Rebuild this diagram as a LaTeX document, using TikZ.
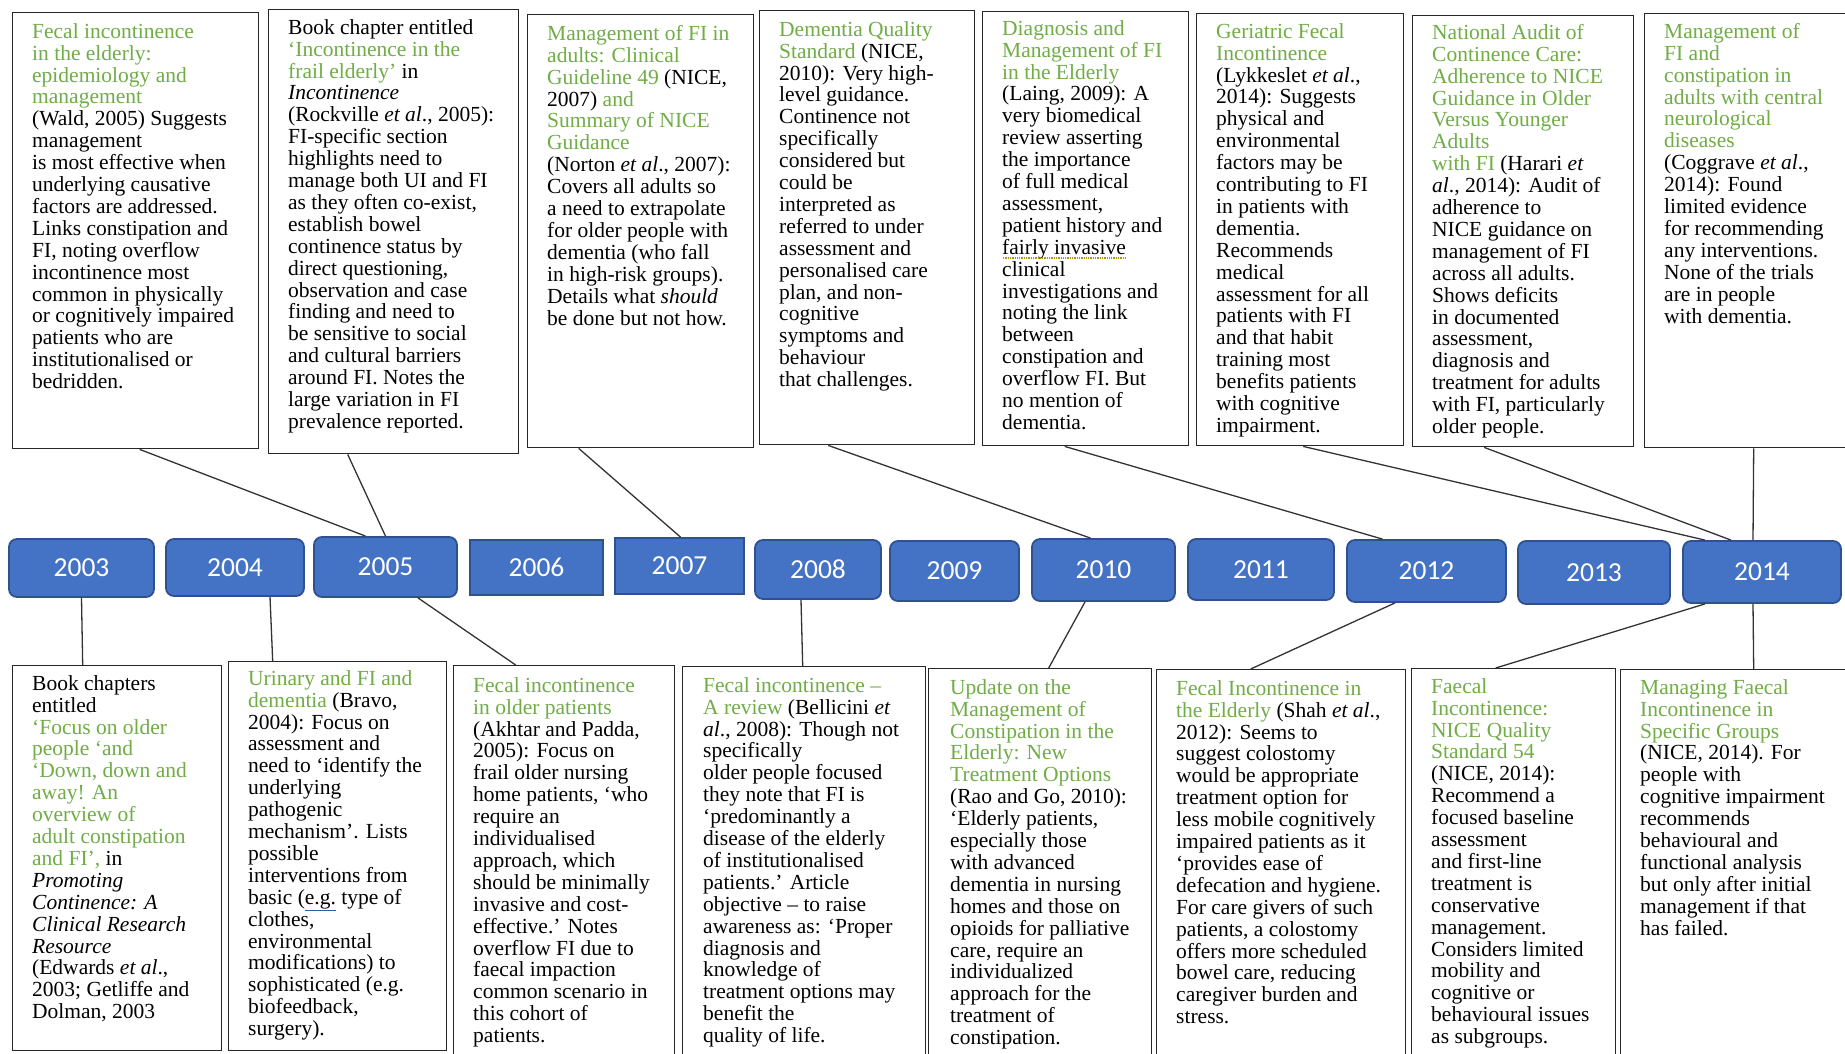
\documentclass[tikz,border=0pt]{standalone}
\usepackage{fontspec}
\setmainfont{Liberation Serif}
\newfontfamily\yearfont{Carlito}
\usetikzlibrary{calc}
\definecolor{titlegreen}{HTML}{70AD47}
\definecolor{yearfill}{HTML}{4472C4}
\definecolor{yearedge}{HTML}{2F528F}
\definecolor{linkblue}{HTML}{2E5C9E}
\newcommand{\ttl}[1]{\textcolor{titlegreen}{#1}}
\newcommand{\etal}{\textit{et al}.}
\newcommand{\lead}{\rule{0pt}{15pt}}
\begin{document}
\begin{tikzpicture}[x=1pt,y=-1pt,
  frame/.style={draw=black!85, line width=1.4pt, inner sep=0pt, anchor=north west},
  yearbox/.style={rectangle, rounded corners=8pt, fill=yearfill, draw=yearedge,
    line width=1.8pt, text=white, inner sep=0pt,
    font=\yearfont\fontsize{27.5}{30}\selectfont},
  sharpyear/.style={yearbox, sharp corners},
  note/.style={anchor=north west, inner sep=0pt, align=left,
    font=\fontsize{21.5}{21.9}\selectfont, text=black},
  link/.style={draw=black!80, line width=1.3pt}]
\useasboundingbox (0,0) rectangle (1845,1053);
\clip (0,0) rectangle (1845,1053);
\fill[white] (0,0) rectangle (1845,1053);

% ---------- upper row of frames ----------
\node[frame, minimum width=246pt, minimum height=436pt] (t1) at (12,12) {};
\node[frame, minimum width=250pt, minimum height=444pt] (t2) at (268,9) {};
\node[frame, minimum width=226pt, minimum height=433pt] (t3) at (527,14) {};
\node[frame, minimum width=215pt, minimum height=434pt] (t4) at (759,10) {};
\node[frame, minimum width=206pt, minimum height=434pt] (t5) at (982,11) {};
\node[frame, minimum width=207pt, minimum height=432pt] (t6) at (1196,13) {};
\node[frame, minimum width=221pt, minimum height=431pt] (t7) at (1412,15) {};
\node[frame, minimum width=210pt, minimum height=434pt] (t8) at (1644,13) {};

\node[note] (n1) at (32,23) {\lead\ttl{Fecal incontinence}\\
\ttl{in the elderly:}\\
\ttl{epidemiology and}\\
\ttl{management}\\
(Wald, 2005) Suggests\\
management\\
is most effective when\\
underlying causative\\
factors are addressed.\\
Links constipation and\\
FI, noting overflow\\
incontinence most\\
common in physically\\
or cognitively impaired\\
patients who are\\
institutionalised or\\
bedridden.};

\node[note] (n2) at (288,19) {\lead Book chapter entitled\\
\ttl{‘Incontinence in the}\\
\ttl{frail elderly’} in\\
\textit{Incontinence}\\
(Rockville \etal, 2005):\\
FI-specific section\\
highlights need to\\
manage both UI and FI\\
as they often co-exist,\\
establish bowel\\
continence status by\\
direct questioning,\\
observation and case\\
finding and need to\\
be sensitive to social\\
and cultural barriers\\
around FI. Notes the\\
large variation in FI\\
prevalence reported.};

\node[note] (n3) at (547,25) {\lead\ttl{Management of FI in}\\
\ttl{adults: Clinical}\\
\ttl{Guideline 49} (NICE,\\
2007) \ttl{and}\\
\ttl{Summary of NICE}\\
\ttl{Guidance}\\
(Norton \etal, 2007):\\
Covers all adults so\\
a need to extrapolate\\
for older people with\\
dementia (who fall\\
in high-risk groups).\\
Details what \textit{should}\\
be done but not how.};

\node[note] (n4) at (779,21) {\lead\ttl{Dementia Quality}\\
\ttl{Standard} (NICE,\\
2010): Very high-\\
level guidance.\\
Continence not\\
specifically\\
considered but\\
could be\\
interpreted as\\
referred to under\\
assessment and\\
personalised care\\
plan, and non-\\
cognitive\\
symptoms and\\
behaviour\\
that challenges.};

\node[note] (n5) at (1002,20) {\lead\ttl{Diagnosis and}\\
\ttl{Management of FI}\\
\ttl{in the Elderly}\\
(Laing, 2009): A\\
very biomedical\\
review asserting\\
the importance\\
of full medical\\
assessment,\\
patient history and\\
fairly invasive\\
clinical\\
investigations and\\
noting the link\\
between\\
constipation and\\
overflow FI. But\\
no mention of\\
dementia.};
% grammar-check marks under "fairly invasive"
\draw[densely dotted, draw=olive!80!yellow, line width=1.3pt]
  ($(n5.north west)+(1,238)$) -- ++(122,0);

\node[note] (n6) at (1216,23) {\lead\ttl{Geriatric Fecal}\\
\ttl{Incontinence}\\
(Lykkeslet \etal,\\
2014): Suggests\\
physical and\\
environmental\\
factors may be\\
contributing to FI\\
in patients with\\
dementia.\\
Recommends\\
medical\\
assessment for all\\
patients with FI\\
and that habit\\
training most\\
benefits patients\\
with cognitive\\
impairment.};

\node[note] (n7) at (1432,24) {\lead\ttl{National Audit of}\\
\ttl{Continence Care:}\\
\ttl{Adherence to NICE}\\
\ttl{Guidance in Older}\\
\ttl{Versus Younger}\\
\ttl{Adults}\\
\ttl{with FI} (Harari \textit{et}\\
\textit{al}., 2014): Audit of\\
adherence to\\
NICE guidance on\\
management of FI\\
across all adults.\\
Shows deficits\\
in documented\\
assessment,\\
diagnosis and\\
treatment for adults\\
with FI, particularly\\
older people.};

\node[note] (n8) at (1664,23) {\lead\ttl{Management of}\\
\ttl{FI and}\\
\ttl{constipation in}\\
\ttl{adults with central}\\
\ttl{neurological}\\
\ttl{diseases}\\
(Coggrave \etal,\\
2014): Found\\
limited evidence\\
for recommending\\
any interventions.\\
None of the trials\\
are in people\\
with dementia.};

% ---------- timeline ----------
\node[yearbox, minimum width=145pt, minimum height=58pt] (y2003) at (81.5,568) {2003};
\node[yearbox, minimum width=138pt, minimum height=57pt] (y2004) at (235,567.5) {2004};
\node[yearbox, minimum width=143pt, minimum height=60pt] (y2005) at (385.5,567) {2005};
\node[sharpyear, minimum width=133pt, minimum height=55pt] (y2006) at (536.5,567.5) {2006};
\node[sharpyear, minimum width=129pt, minimum height=56pt] (y2007) at (679.5,566) {2007};
\node[yearbox, minimum width=126pt, minimum height=59pt] (y2008) at (818,569.5) {2008};
\node[yearbox, minimum width=129pt, minimum height=60pt] (y2009) at (954.5,571) {2009};
\node[yearbox, minimum width=143pt, minimum height=62pt] (y2010) at (1103.5,570) {2010};
\node[yearbox, minimum width=146pt, minimum height=61pt] (y2011) at (1261,569.5) {2011};
\node[yearbox, minimum width=159pt, minimum height=62pt] (y2012) at (1426.5,571) {2012};
\node[yearbox, minimum width=152pt, minimum height=63pt] (y2013) at (1594,572.5) {2013};
\node[yearbox, minimum width=158pt, minimum height=62pt] (y2014) at (1762,572) {2014};

% ---------- lower row of frames ----------
\node[frame, minimum width=209pt, minimum height=385pt] (b1) at (12,665) {};
\node[frame, minimum width=218pt, minimum height=389pt] (b2) at (228,661) {};
\node[frame, minimum width=221pt, minimum height=400pt] (b3) at (453,665) {};
\node[frame, minimum width=243pt, minimum height=400pt] (b4) at (682,666) {};
\node[frame, minimum width=223pt, minimum height=400pt] (b5) at (928,668) {};
\node[frame, minimum width=249pt, minimum height=400pt] (b6) at (1156,669) {};
\node[frame, minimum width=204pt, minimum height=400pt] (b7) at (1411,668) {};
\node[frame, minimum width=230pt, minimum height=400pt] (b8) at (1620,669) {};

\node[note] (m1) at (32,675) {\lead Book chapters\\
entitled\\
\ttl{‘Focus on older}\\
\ttl{people ‘and}\\
\ttl{‘Down, down and}\\
\ttl{away! An}\\
\ttl{overview of}\\
\ttl{adult constipation}\\
\ttl{and FI’,} in\\
\textit{Promoting}\\
\textit{Continence: A}\\
\textit{Clinical Research}\\
\textit{Resource}\\
(Edwards \etal,\\
2003; Getliffe and\\
Dolman, 2003};

\node[note] (m2) at (248,670) {\lead\ttl{Urinary and FI and}\\
\ttl{dementia} (Bravo,\\
2004): Focus on\\
assessment and\\
need to ‘identify the\\
underlying\\
pathogenic\\
mechanism’. Lists\\
possible\\
interventions from\\
basic (\textcolor{linkblue}{\underline{\textcolor{black}{e.g.}}} type of\\
clothes,\\
environmental\\
modifications) to\\
sophisticated (e.g.\\
biofeedback,\\
surgery).};

\node[note] (m3) at (473,677) {\lead\ttl{Fecal incontinence}\\
\ttl{in older patients}\\
(Akhtar and Padda,\\
2005): Focus on\\
frail older nursing\\
home patients, ‘who\\
require an\\
individualised\\
approach, which\\
should be minimally\\
invasive and cost-\\
effective.’ Notes\\
overflow FI due to\\
faecal impaction\\
common scenario in\\
this cohort of\\
patients.};

\node[note] (m4) at (703,677) {\lead\ttl{Fecal incontinence –}\\
\ttl{A review} (Bellicini \textit{et}\\
\textit{al}., 2008): Though not\\
specifically\\
older people focused\\
they note that FI is\\
‘predominantly a\\
disease of the elderly\\
of institutionalised\\
patients.’ Article\\
objective – to raise\\
awareness as: ‘Proper\\
diagnosis and\\
knowledge of\\
treatment options may\\
benefit the\\
quality of life.};

\node[note] (m5) at (950,679) {\lead\ttl{Update on the}\\
\ttl{Management of}\\
\ttl{Constipation in the}\\
\ttl{Elderly: New}\\
\ttl{Treatment Options}\\
(Rao and Go, 2010):\\
‘Elderly patients,\\
especially those\\
with advanced\\
dementia in nursing\\
homes and those on\\
opioids for palliative\\
care, require an\\
individualized\\
approach for the\\
treatment of\\
constipation.};

\node[note] (m6) at (1176,680) {\lead\ttl{Fecal Incontinence in}\\
\ttl{the Elderly} (Shah \etal,\\
2012): Seems to\\
suggest colostomy\\
would be appropriate\\
treatment option for\\
less mobile cognitively\\
impaired patients as it\\
‘provides ease of\\
defecation and hygiene.\\
For care givers of such\\
patients, a colostomy\\
offers more scheduled\\
bowel care, reducing\\
caregiver burden and\\
stress.};

\node[note] (m7) at (1431,678) {\lead\ttl{Faecal}\\
\ttl{Incontinence:}\\
\ttl{NICE Quality}\\
\ttl{Standard 54}\\
(NICE, 2014):\\
Recommend a\\
focused baseline\\
assessment\\
and first-line\\
treatment is\\
conservative\\
management.\\
Considers limited\\
mobility and\\
cognitive or\\
behavioural issues\\
as subgroups.};

\node[note] (m8) at (1640,679) {\lead\ttl{Managing Faecal}\\
\ttl{Incontinence in}\\
\ttl{Specific Groups}\\
(NICE, 2014). For\\
people with\\
cognitive impairment\\
recommends\\
behavioural and\\
functional analysis\\
but only after initial\\
management if that\\
has failed.};

% ---------- connectors: upper frames to years ----------
\draw[link] ([xshift=4pt]t1.south) -- ([xshift=-20pt]y2005.north);
\draw[link] ([xshift=-46pt]t2.south) -- (y2005.north);
\draw[link] ([xshift=-62pt]t3.south) -- ([xshift=1pt]y2007.north);
\draw[link] ([xshift=-39pt]t4.south) -- ([xshift=-13pt]y2010.north);
\draw[link] ([xshift=-21pt]t5.south) -- ([xshift=-44pt]y2012.north);
\draw[link] ([xshift=3pt]t6.south) -- ([xshift=-57pt]y2014.north);
\draw[link] ([xshift=-39pt]t7.south) -- ([xshift=-31pt]y2014.north);
\draw[link] ([xshift=4pt]t8.south) -- ([xshift=-9pt]y2014.north);

% ---------- connectors: years to lower frames ----------
\draw[link] (y2003.south) -- ([xshift=-34.5pt]b1.north);
\draw[link] ([xshift=35pt]y2004.south) -- ([xshift=-65pt]b2.north);
\draw[link] ([xshift=32.5pt]y2005.south) -- ([xshift=-48.5pt]b3.north);
\draw[link] ([xshift=-17pt]y2008.south) -- ([xshift=-1.5pt]b4.north);
\draw[link] ([xshift=-18.5pt]y2010.south) -- ([xshift=8.5pt]b5.north);
\draw[link] ([xshift=-31.5pt]y2012.south) -- ([xshift=-30.5pt]b6.north);
\draw[link] ([xshift=-57pt]y2014.south) -- ([xshift=-18pt]b7.north);
\draw[link] ([xshift=-9pt]y2014.south) -- ([xshift=18pt]b8.north);
\end{tikzpicture}
\end{document}
